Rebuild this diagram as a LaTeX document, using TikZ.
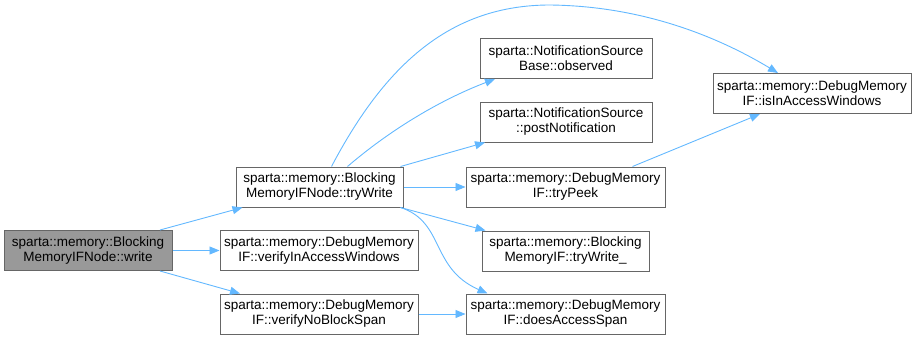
\documentclass[tikz,border=0pt]{standalone}
\usepackage{fontspec}
\setmainfont{Liberation Sans}
\usepackage{xcolor,tikz}
\usetikzlibrary{arrows.meta}

\definecolor{edgeblue}{HTML}{63B8FF}
\definecolor{boxgray}{HTML}{666666}
\definecolor{curgray}{HTML}{999999}

\begin{document}
\begin{tikzpicture}[x=1pt,y=-1pt,font=\fontsize{13.5}{15}\selectfont,
 b/.style={draw=boxgray,line width=1pt,fill=white,align=center,minimum height=40pt,
 inner sep=2pt},
 a/.style={-{Triangle[length=10pt,width=8pt]},line width=0.9pt,edgeblue}]
\useasboundingbox (0,0) rectangle (917,340);
\node[b,fill=curgray,minimum width=168pt] (wr) at (88,250.5) {sparta::memory::Blocking\\MemoryIFNode::write};
\node[b,minimum width=167pt] (tw) at (319.5,187) {sparta::memory::Blocking\\MemoryIFNode::tryWrite};
\node[b,minimum width=198pt] (via) at (319,250.5) {sparta::memory::DebugMemory\\IF::verifyInAccessWindows};
\node[b,minimum width=198pt] (vnb) at (319,314) {sparta::memory::DebugMemory\\IF::verifyNoBlockSpan};
\node[b,minimum width=172pt] (obs) at (566,58.5) {sparta::NotificationSource\\Base::observed};
\node[b,minimum width=172pt] (pn) at (566,122) {sparta::NotificationSource\\::postNotification};
\node[b,minimum width=199pt] (tp) at (565.5,187) {sparta::memory::DebugMemory\\IF::tryPeek};
\node[b,minimum width=167pt] (twu) at (565.5,251) {sparta::memory::Blocking\\MemoryIF::tryWrite\_};
\node[b,minimum width=199pt] (das) at (565.5,314) {sparta::memory::DebugMemory\\IF::doesAccessSpan};
\node[b,minimum width=198pt] (isw) at (812,93.5) {sparta::memory::DebugMemory\\IF::isInAccessWindows};
% calls out of write
\draw[a] ([xshift=72]wr.north) -- ([xshift=-77]tw.south);
\draw[a] (wr.east) -- (via.west);
\draw[a] ([xshift=72]wr.south) -- ([xshift=-79]vnb.north);
% calls out of tryWrite
\draw[a] ([xshift=12]tw.north) .. controls (385,65) and (450,5) .. (550,5)
 .. controls (640,6) and (715,35) .. ([xshift=-34]isw.north);
\draw[a] ([xshift=28]tw.north) .. controls (390,130) and (440,100) .. ([xshift=-71]obs.south);
\draw[a] ([xshift=-3]tw.north east) -- ([xshift=-81]pn.south);
\draw[a] (tw.east) -- (tp.west);
\draw[a] ([xshift=-3]tw.south east) -- ([xshift=-80]twu.north);
\draw[a] ([xshift=-3]tw.south east) .. controls (445,222) and (430,268) .. ([xshift=-78]das.north);
% remaining calls
\draw[a] ([xshift=67]tp.north) -- ([xshift=-52]isw.south);
\draw[a] (vnb.east) -- (das.west);
\end{tikzpicture}
\end{document}
